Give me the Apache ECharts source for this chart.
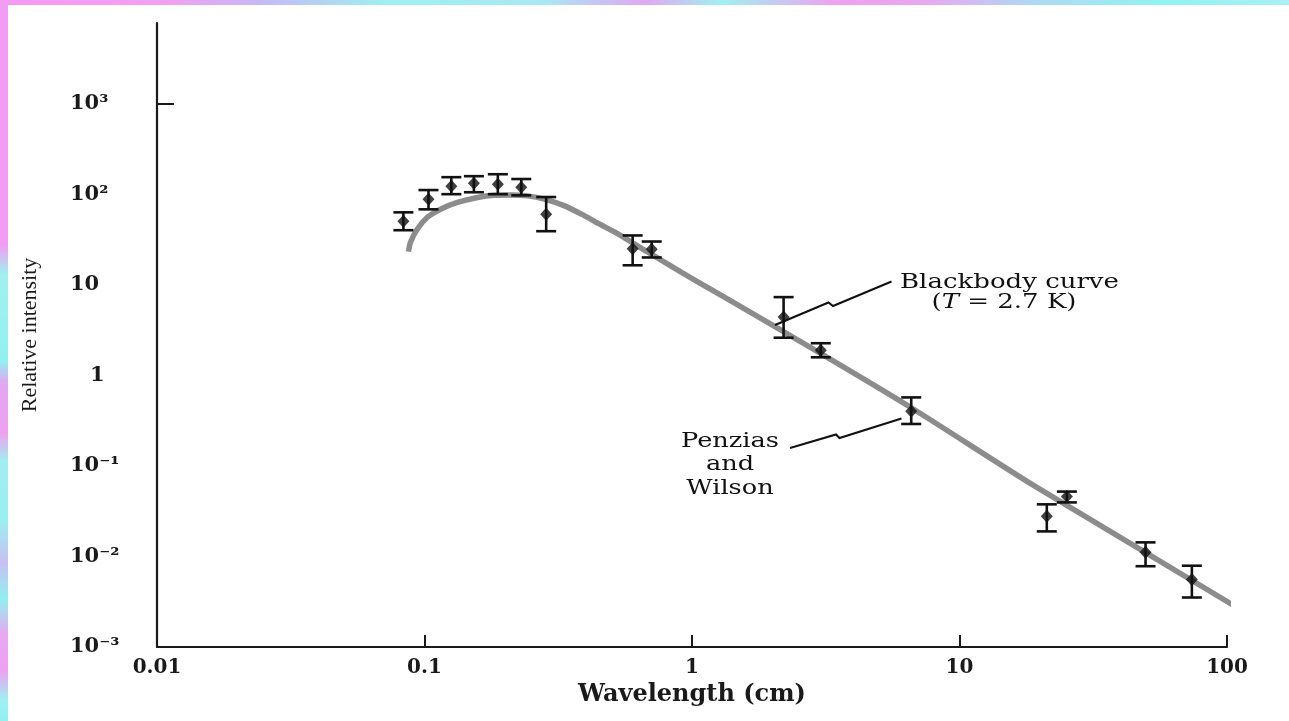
<!DOCTYPE html>
<html><head><meta charset="utf-8">
<script src="https://cdn.jsdelivr.net/npm/echarts@6/dist/echarts.min.js"></script>
<style>html,body{margin:0;padding:0;background:#fff;}#c{width:1289px;height:721px;}</style>
</head><body><div id="c"></div>
<script>
// ---- data ----
const xTickValues = [0.01, 0.1, 1, 10, 100];
const xTickLabels = ['0.01', '0.1', '1', '10', '100'];
const yTickValues = [0.001, 0.01, 0.1, 1, 10, 100, 1000];
const yTickLabels = ['10⁻³', '10⁻²', '10⁻¹', '1', '10', '10²', '10³'];

// Blackbody curve (T = 2.7 K)
const curveWavelength = [0.0871, 0.0886, 0.0939, 0.1023, 0.1148, 0.1327, 0.1578, 0.1822, 0.2105, 0.2433, 0.2808, 0.334, 0.397, 0.452, 0.515, 0.689, 0.917, 1.297, 2.99, 6.49, 17.4, 34.8, 107];
const curveIntensity  = [23.2, 29.3, 41.0, 55.3, 68.3, 81.0, 92.0, 97.5, 98.2, 95.8, 88.1, 74.3, 57.6, 46.6, 38.0, 22.6, 13.6, 7.52, 1.78, 0.452, 0.071, 0.0207, 0.00282];

// Measurements with error bars
const obsWavelength = [0.0834, 0.1035, 0.126, 0.153, 0.188, 0.23, 0.285, 0.60, 0.707, 2.2, 3.03, 6.6, 21.2, 25.2, 49.6, 73.9];
const obsIntensity  = [50.3, 88, 122, 132, 129, 119, 60, 25, 24.7, 4.4, 1.89, 0.40, 0.0277, 0.046, 0.0111, 0.00557];
const obsLow        = [40, 68, 100, 105, 100, 97, 39, 16.4, 20, 2.6, 1.58, 0.29, 0.0189, 0.0395, 0.0078, 0.00352];
const obsHigh       = [63, 111, 154, 158, 166, 147, 93, 35, 30, 7.3, 2.26, 0.57, 0.0376, 0.052, 0.0143, 0.0079];

const xAxisName = 'Wavelength (cm)';
const yAxisName = 'Relative intensity';

// ---- build ----
const SERIF = '"DejaVu Serif", "Liberation Serif", serif';
const curveData = curveWavelength.map((w, i) => [w, curveIntensity[i]]);
const pointData = obsWavelength.map((w, i) => [w, obsIntensity[i]]);
const barData = obsWavelength.map((w, i) => [w, obsLow[i], obsHigh[i]]);

function labelFor(values, labels, v) {
  const lv = Math.log10(v);
  for (let i = 0; i < values.length; i++) {
    if (Math.abs(Math.log10(values[i]) - lv) < 1e-6) return labels[i];
  }
  return '';
}

const chart = echarts.init(document.getElementById('c'), null, {renderer: 'canvas'});
const option = {
  backgroundColor: '#ffffff',
  animation: false,
  grid: {left: 157, right: 62, top: 23, bottom: 74, containLabel: false, outerBoundsMode: 'none'},
  xAxis: {
    type: 'log', logBase: 10, min: 0.01, max: 100,
    name: xAxisName, nameLocation: 'middle', nameGap: 34,
    nameTextStyle: {fontFamily: SERIF, fontSize: 24, fontWeight: 'bold', color: '#1a1a1a'},
    axisLine: {show: true, lineStyle: {color: '#1a1a1a', width: 2.2}},
    axisTick: {show: true, inside: true, length: 12, lineStyle: {color: '#1a1a1a', width: 2}},
    axisLabel: {show: true, margin: 11, fontFamily: SERIF, fontSize: 20, fontWeight: 'bold', color: '#1a1a1a',
      formatter: v => labelFor(xTickValues, xTickLabels, v)},
    splitLine: {show: false}, minorTick: {show: false}
  },
  yAxis: {
    type: 'log', logBase: 10, min: 0.001, max: 7762,
    name: yAxisName, nameLocation: 'middle', nameGap: 116, nameRotate: 90,
    nameTextStyle: {fontFamily: '"Liberation Serif", serif', fontSize: 22, color: '#1a1a1a'},
    axisLine: {show: true, lineStyle: {color: '#1a1a1a', width: 2.2}},
    axisTick: {show: true, inside: true, length: 17, lineStyle: {color: '#1a1a1a', width: 2}, customValues: [1000]},
    axisLabel: {show: true, margin: 87, align: 'left', fontFamily: SERIF, fontSize: 21, fontWeight: 'bold', color: '#1a1a1a',
      customValues: yTickValues,
      formatter: v => { const s = labelFor(yTickValues, yTickLabels, v); return s === '1' ? '{one|1}' : s; },
      rich: {one: {fontFamily: SERIF, fontSize: 21, fontWeight: 'bold', color: '#1a1a1a', padding: [0, 0, 0, 20]}}},
    splitLine: {show: false}, minorTick: {show: false}
  },
  series: [
    {
      name: 'Blackbody curve', type: 'line', data: curveData, showSymbol: false, smooth: 0.25,
      clip: false, z: 2,
      lineStyle: {color: '#8c8c8c', width: 5.5, cap: 'butt'}
    },
    {
      name: 'Error bars', type: 'custom', data: barData, z: 3, clip: false,
      encode: {x: 0, y: [1, 2]},
      renderItem: (params, api) => {
        const x = api.value(0);
        const p1 = api.coord([x, api.value(1)]);
        const p2 = api.coord([x, api.value(2)]);
        const w = 10;
        const st = {stroke: '#111111', lineWidth: 2.6};
        return {type: 'group', children: [
          {type: 'line', shape: {x1: p1[0], y1: p1[1], x2: p2[0], y2: p2[1]}, style: st},
          {type: 'line', shape: {x1: p1[0] - w, y1: p1[1], x2: p1[0] + w, y2: p1[1]}, style: st},
          {type: 'line', shape: {x1: p2[0] - w, y1: p2[1], x2: p2[0] + w, y2: p2[1]}, style: st}
        ]};
      }
    },
    {
      name: 'Measurements', type: 'scatter', data: pointData, symbol: 'diamond', symbolSize: [12, 13], z: 4,
      itemStyle: {color: '#111111'}
    }
  ],
  graphic: [
    // decorative frame strips
    {type: 'rect', silent: true, z: 100, shape: {x: 0, y: 0, width: 1289, height: 5},
      style: {fill: new echarts.graphic.LinearGradient(0, 0, 1, 0, [
        {offset: 0, color: '#f59af5'}, {offset: 0.13, color: '#f2a0f2'}, {offset: 0.2, color: '#c8b8f5'},
        {offset: 0.3, color: '#9ef0f2'}, {offset: 0.42, color: '#a8e8f5'}, {offset: 0.5, color: '#e0a8f2'},
        {offset: 0.56, color: '#a0f0f2'}, {offset: 0.65, color: '#f0a0f0'}, {offset: 0.72, color: '#e8a8f0'},
        {offset: 0.8, color: '#b0d8f5'}, {offset: 0.9, color: '#90f2f2'}, {offset: 1, color: '#a8f0f5'}])}},
    {type: 'rect', silent: true, z: 100, shape: {x: 0, y: 0, width: 8, height: 721},
      style: {fill: new echarts.graphic.LinearGradient(0, 0, 0, 1, [
        {offset: 0, color: '#f39cf3'}, {offset: 0.34, color: '#f39cf3'}, {offset: 0.38, color: '#a0f0f0'},
        {offset: 0.5, color: '#90f2f0'}, {offset: 0.53, color: '#e0a8f0'}, {offset: 0.6, color: '#f0a0f0'},
        {offset: 0.64, color: '#a0eef2'}, {offset: 0.72, color: '#98f0f0'}, {offset: 0.78, color: '#c8c0f2'},
        {offset: 0.83, color: '#90f0f0'}, {offset: 0.88, color: '#e8a8f0'}, {offset: 0.93, color: '#f0a0f0'},
        {offset: 0.97, color: '#a0eef2'}, {offset: 1, color: '#90f2f2'}])}},
    // annotation: blackbody curve
    {type: 'polyline', silent: true, z: 50, shape: {points: [[775, 325], [828.5, 302.5], [833, 306], [891.5, 281.5]]},
      style: {stroke: '#111', lineWidth: 2, fill: null}},
    {type: 'text', silent: true, z: 50, x: 900, y: 283, scaleX: 1.3,
      style: {text: 'Blackbody curve', fontFamily: SERIF, fontSize: 20, fill: '#111', textAlign: 'left', textVerticalAlign: 'middle'}},
    {type: 'text', silent: true, z: 50, x: 1004, y: 303, scaleX: 1.3,
      style: {text: '({i|T} = 2.7 K)', fontFamily: SERIF, fontSize: 20, fill: '#111', textAlign: 'center', textVerticalAlign: 'middle',
        rich: {i: {fontFamily: SERIF, fontSize: 20, fontStyle: 'italic', fill: '#111'}}}},
    // annotation: Penzias and Wilson
    {type: 'polyline', silent: true, z: 50, shape: {points: [[790, 448], [836, 434.5], [839.5, 438], [901.5, 418.5]]},
      style: {stroke: '#111', lineWidth: 2, fill: null}},
    {type: 'text', silent: true, z: 50, x: 730, y: 465, scaleX: 1.28,
      style: {text: 'Penzias\nand\nWilson', fontFamily: SERIF, fontSize: 20, lineHeight: 23.5, fill: '#111', textAlign: 'center', textVerticalAlign: 'middle'}}
  ]
};
chart.setOption(option);
</script>
</body></html>
